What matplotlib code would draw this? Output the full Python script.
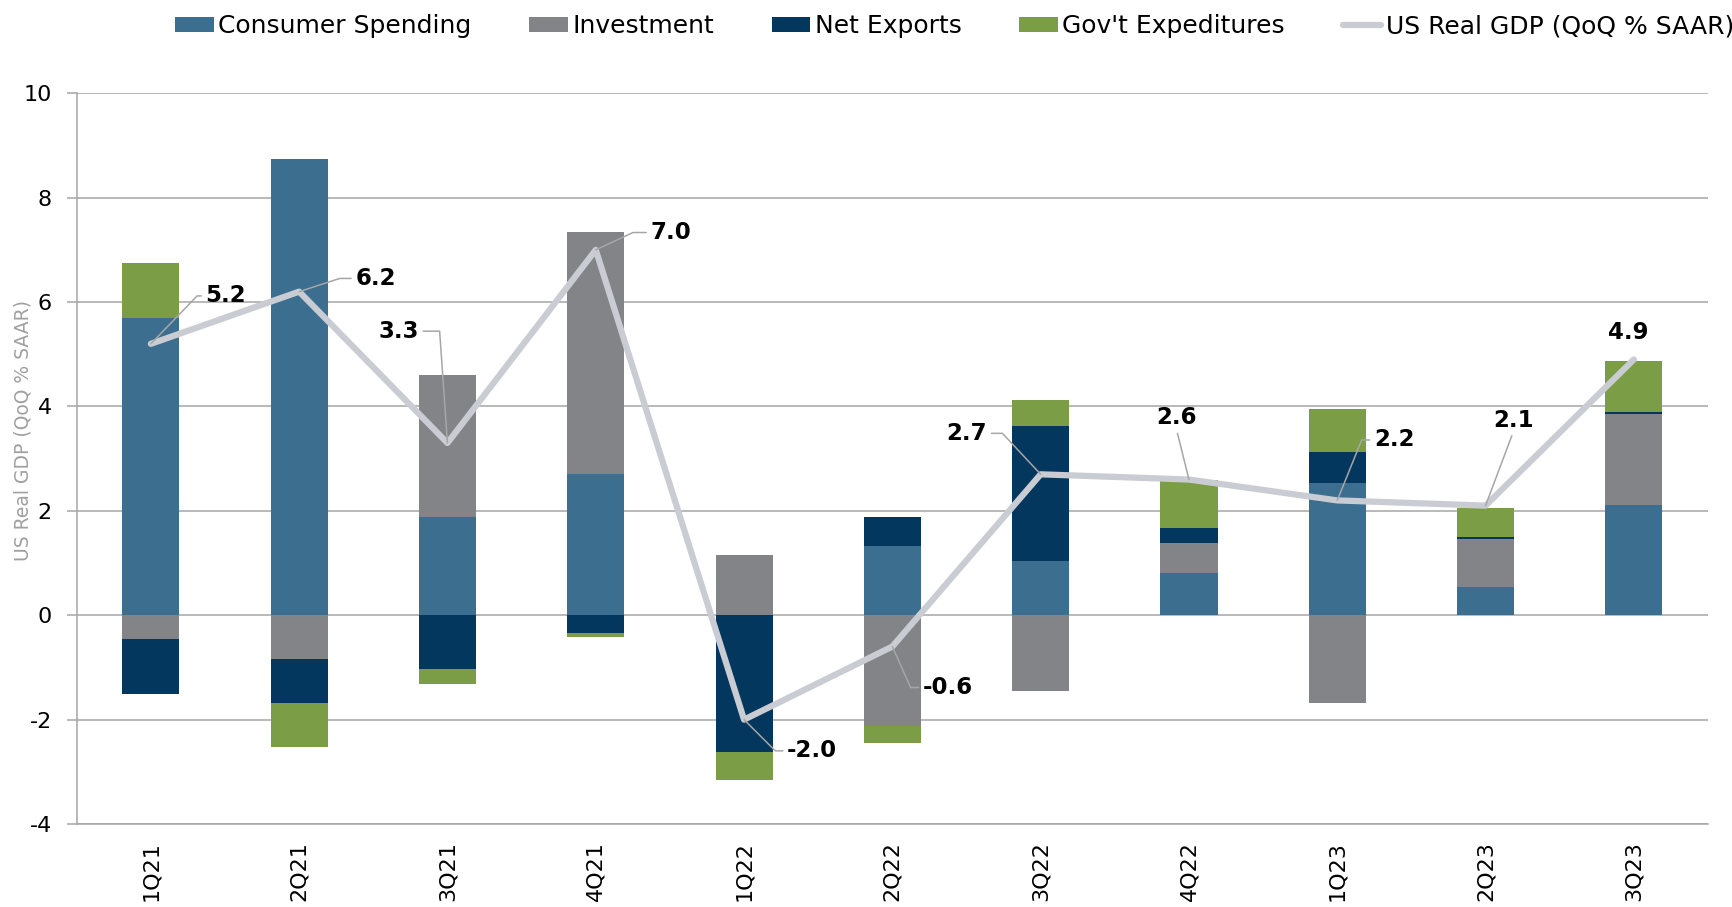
import numpy as np
import matplotlib
matplotlib.use('Agg')
import matplotlib.pyplot as plt

plt.rcParams['font.family'] = 'DejaVu Sans'
plt.rcParams['axes.unicode_minus'] = False

# datos (contribuciones a la variacion del PIB real, pp)
quarters = ['1Q21', '2Q21', '3Q21', '4Q21', '1Q22', '2Q22', '3Q22', '4Q22', '1Q23', '2Q23', '3Q23']
consumer = [5.70, 8.74, 1.88, 2.70, 0.00, 1.33, 1.03, 0.80, 2.53, 0.55, 2.11]
investment = [-0.46, -0.84, 2.72, 4.65, 1.16, -2.13, -1.46, 0.59, -1.69, 0.91, 1.75]
net_exports = [-1.04, -0.85, -1.03, -0.34, -2.62, 0.55, 2.60, 0.28, 0.59, 0.04, 0.03]
gov = [1.04, -0.84, -0.28, -0.08, -0.53, -0.32, 0.49, 0.93, 0.83, 0.55, 0.99]
gdp = [5.2, 6.2, 3.3, 7.0, -2.0, -0.6, 2.7, 2.6, 2.2, 2.1, 4.9]

series_names = ['Consumer Spending', 'Investment', 'Net Exports', "Gov't Expeditures"]
line_name = 'US Real GDP (QoQ % SAAR)'
colors = ['#3C6E8F', '#838488', '#03375E', '#7B9D45']
line_color = '#C9CCD2'
grid_color = '#A6A6A6'

# posicion de las etiquetas (offset en puntos) y lineas guia
label_offsets = [(54, 34.5), (55, 9.5), (-35, 80.5), (54, 12.5), (49, -22.5), (40, -29.5),
                 (-53, 29.5), (-9, 44.5), (41, 43.5), (20, 61.5), (-4, 19.5)]
# (relpos, angulo de la guia desde el punto); None = sin guia, 'straight' = recta
leaders = [((0, 0.5), 46), ((0, 0.5), 18), ((1, 0.5), 94), ((0, 0.5), 25),
           ((0, 0.5), -45), ((0, 0.5), -66), ((1, 0.5), 133), ((0.5, 0), 'straight'),
           ((0, 0.5), 68), ((0.5, 0), 'straight'), None]

fig = plt.figure(figsize=(17.33, 9.07), dpi=100)
ax = fig.add_axes([0.04426, 0.09151, 0.94132, 0.80562])

x = np.arange(len(quarters))
pos_base = np.zeros(len(quarters))
neg_base = np.zeros(len(quarters))
handles = []
for vals, name, c in zip([consumer, investment, net_exports, gov], series_names, colors):
    vals = np.array(vals)
    bottoms = np.where(vals >= 0, pos_base, neg_base)
    b = ax.bar(x, vals, width=0.385, bottom=bottoms, color=c, label=name, zorder=2)
    handles.append(b)
    pos_base = pos_base + np.where(vals >= 0, vals, 0)
    neg_base = neg_base + np.where(vals < 0, vals, 0)

ln, = ax.plot(x, gdp, color=line_color, lw=4.5, zorder=4, label=line_name,
              solid_joinstyle='round', solid_capstyle='round')
handles.append(ln)

for i, v in enumerate(gdp):
    kw = dict(xy=(i, v), xytext=label_offsets[i], textcoords='offset points',
              ha='center', va='center', fontsize=16.5, fontweight='bold',
              color='black', zorder=6)
    lead = leaders[i]
    if lead is not None:
        relpos, ang = lead
        if ang == 'straight':
            cs = 'arc3,rad=0'
        else:
            cs = 'angle,angleA=0,angleB=%s,rad=0' % ang
        kw['arrowprops'] = dict(arrowstyle='-', color=grid_color, lw=1.1,
                                relpos=relpos, connectionstyle=cs,
                                shrinkA=1, shrinkB=0)
    ax.annotate('%.1f' % v, **kw)

ax.set_xlim(-0.5, len(quarters) - 0.5)
ax.set_ylim(-4, 10)
ax.set_yticks(np.arange(-4, 11, 2))
ax.set_xticks(x)
ax.set_xticklabels(quarters, rotation=90, fontsize=16)
ax.tick_params(axis='x', length=0, pad=12)
ax.tick_params(axis='y', labelsize=16, length=7, width=1.1, color=grid_color, pad=11)

ax.grid(True, axis='y', color=grid_color, lw=1.1, zorder=0)
ax.set_axisbelow(True)
for s in ['top', 'right']:
    ax.spines[s].set_visible(False)
for s in ['left', 'bottom']:
    ax.spines[s].set_color(grid_color)
    ax.spines[s].set_linewidth(1.1)

ax.set_ylabel('US Real GDP (QoQ % SAAR)', fontsize=13.5, color='#A0A0A0')
ax.yaxis.set_label_coords(-0.027, 0.538)

fig.legend(handles=handles, labels=series_names + [line_name], loc='center left',
           bbox_to_anchor=(0.101, 0.971), ncol=5, frameon=False, fontsize=18,
           handlelength=1.55, handleheight=0.5, handletextpad=0.18,
           columnspacing=2.3, borderpad=0, borderaxespad=0)

plt.savefig('out.png', dpi=100)
